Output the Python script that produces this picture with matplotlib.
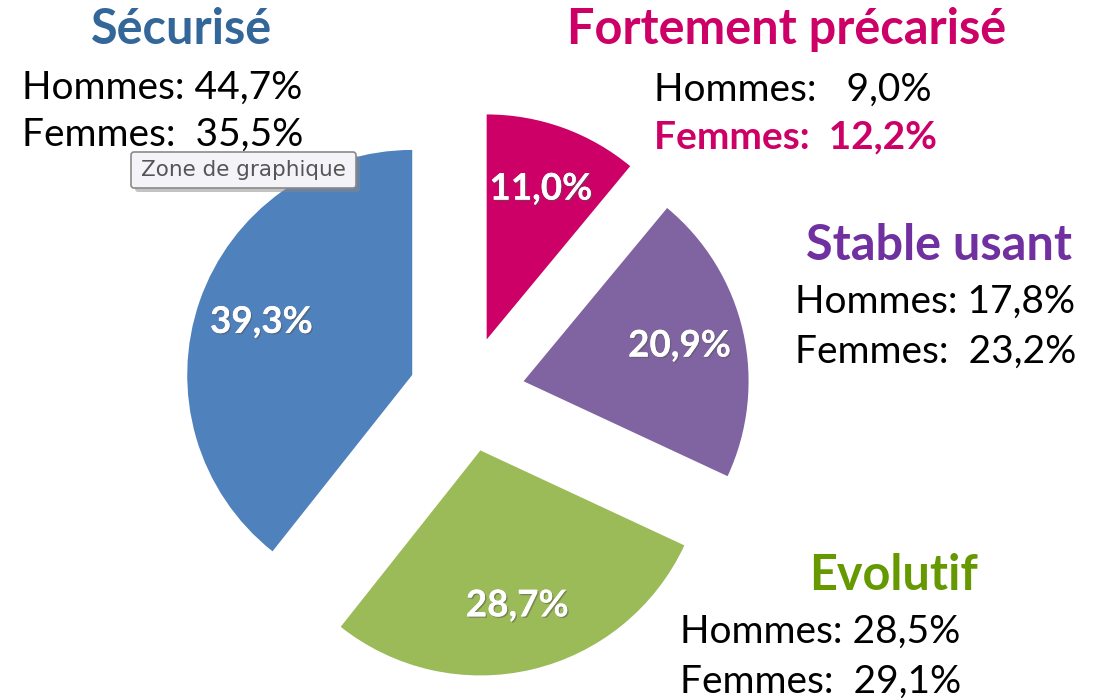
import matplotlib
matplotlib.use("Agg")
import matplotlib.pyplot as plt
from matplotlib.patches import FancyBboxPatch
import matplotlib.patheffects as pe

# Data
categories = ["Fortement précarisé", "Stable usant", "Evolutif", "Sécurisé"]
ensemble = [11.0, 20.9, 28.7, 39.3]
hommes = [9.0, 17.8, 28.5, 44.7]
femmes = [12.2, 23.2, 29.1, 35.5]

slice_colors = ["#CC0066", "#8064A2", "#9BBB59", "#4F81BD"]
title_colors = ["#CC0066", "#7030A0", "#669900", "#336699"]

W, H = 1098, 698
fig = plt.figure(figsize=(W / 100, H / 100), dpi=100)
ax = fig.add_axes([0, 0, 1, 1])

FONT = "Lato"

def fr(v):
    return f"{v:.1f}".replace(".", ",")

wedges, texts, autotexts = ax.pie(
    ensemble, startangle=90, counterclock=False, radius=225,
    center=(467, H - 394), explode=[58] * 4, colors=slice_colors,
    autopct=lambda p: fr(p) + "%", pctdistance=0.71,
    wedgeprops=dict(linewidth=0), frame=True,
    textprops=dict(color="white", fontsize=26.5, fontweight="bold", family=FONT),
)
ax.set_xlim(0, W)
ax.set_ylim(0, H)
ax.set_aspect("equal")
ax.axis("off")
for t in autotexts:
    t.set_path_effects([pe.withSimplePatchShadow(offset=(1, -1), shadow_rgbFace="#555555", alpha=0.5), pe.Normal()])

# Annotation blocks: (title x center, title y, lines left x, line1 y, line2 y)
blocks = {
    "Sécurisé": (181, 30, 22, 88, 135),
    "Fortement précarisé": (787, 30, 654, 90, 137),
    "Stable usant": (939, 245, 795, 302, 352),
    "Evolutif": (894, 575, 680, 632, 682),
}
for i, cat in enumerate(categories):
    tx, ty, lx, y1, y2 = blocks[cat]
    ax.text(tx, H - ty, cat, ha="center", va="center", fontsize=35,
            fontweight="bold", color=title_colors[i], family=FONT)
    h_sp = "   " if hommes[i] < 10 else " "
    ax.text(lx, H - y1, f"Hommes:{h_sp}{fr(hommes[i])}%", ha="left", va="center",
            fontsize=28, color="black", family=FONT)
    if i == 0:
        ax.text(lx, H - y2, f"Femmes:  {fr(femmes[i])}%", ha="left", va="center",
                fontsize=28, color=title_colors[i], fontweight="bold", family=FONT)
    else:
        ax.text(lx, H - y2, f"Femmes:  {fr(femmes[i])}%", ha="left", va="center",
                fontsize=28, color="black", family=FONT)

# Tooltip "Zone de graphique"
shadow = FancyBboxPatch((135, H - 192), 225, 36, boxstyle="round,pad=0,rounding_size=3",
                        facecolor="#888888", edgecolor="none", alpha=0.5, zorder=5)
ax.add_patch(shadow)
tip = FancyBboxPatch((131, H - 188), 225, 36, boxstyle="round,pad=0,rounding_size=3",
                     facecolor="#F4F4F8", edgecolor="#8A8A8A", linewidth=1.2, zorder=6)
ax.add_patch(tip)
ax.text(243, H - 170, "Zone de graphique", ha="center", va="center", fontsize=15.5,
        color="#555555", family="DejaVu Sans", zorder=7)

fig.savefig("out.png", dpi=100)
